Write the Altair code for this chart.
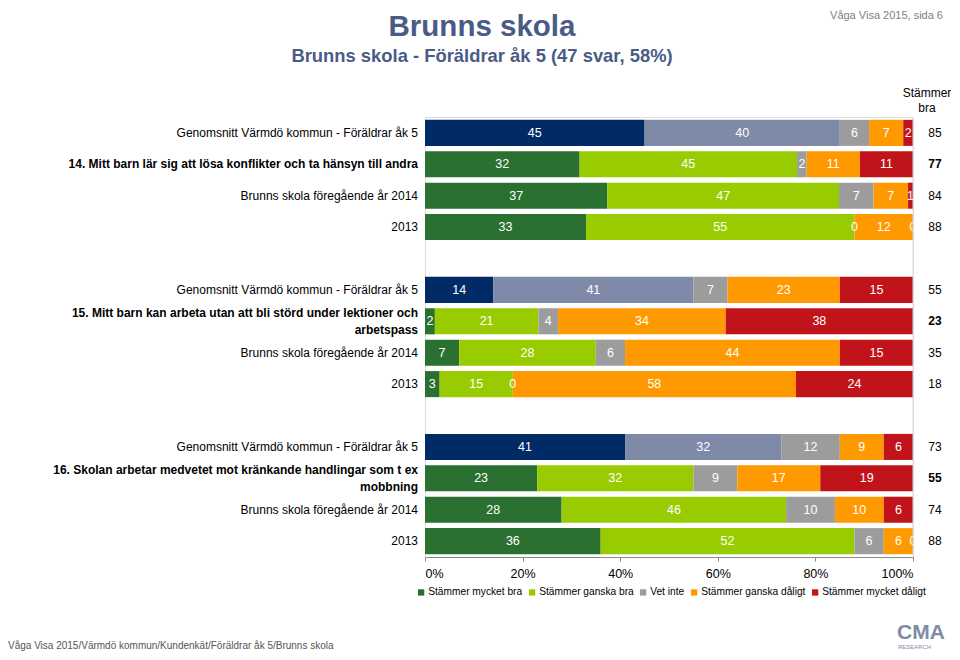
import altair as alt
import pandas as pd

# ---------------- data ----------------
categories = ["Stämmer mycket bra", "Stämmer ganska bra", "Vet inte",
              "Stämmer ganska dåligt", "Stämmer mycket dåligt"]

row_labels = [
    "Genomsnitt Värmdö kommun - Föräldrar åk 5",
    "14. Mitt barn lär sig att lösa konflikter och ta hänsyn till andra",
    "Brunns skola föregående år 2014",
    "2013",
    "Genomsnitt Värmdö kommun - Föräldrar åk 5",
    "15. Mitt barn kan arbeta utan att bli störd under lektioner och\narbetspass",
    "Brunns skola föregående år 2014",
    "2013",
    "Genomsnitt Värmdö kommun - Föräldrar åk 5",
    "16. Skolan arbetar medvetet mot kränkande handlingar som t ex\nmobbning",
    "Brunns skola föregående år 2014",
    "2013",
]
row_kind = ["avg", "q", "prev", "y13"] * 3
row_lines = [1, 1, 1, 1, 1, 2, 1, 1, 1, 2, 1, 1]
row_slot = [0, 1, 2, 3, 5, 6, 7, 8, 10, 11, 12, 13]

mycket_bra = [45, 32, 37, 33, 14, 2, 7, 3, 41, 23, 28, 36]
ganska_bra = [40, 45, 47, 55, 41, 21, 28, 15, 32, 32, 46, 52]
vet_inte = [6, 2, 7, 0, 7, 4, 6, 0, 12, 9, 10, 6]
ganska_daligt = [7, 11, 7, 12, 23, 34, 44, 58, 9, 17, 10, 6]
mycket_daligt = [2, 11, 1, 0, 15, 38, 15, 24, 6, 19, 6, 0]
stammer_bra = [85, 77, 84, 88, 55, 23, 35, 18, 73, 55, 74, 88]

avg_keys = ["Värmdö mycket bra", "Värmdö ganska bra"]
color_domain = categories + avg_keys
color_range = ["#2A7030", "#99CC00", "#9C9C9C", "#FF9900", "#C0141A",
               "#002B66", "#7F8AA8"]

# ---------------- table ----------------
series = [mycket_bra, ganska_bra, vet_inte, ganska_daligt, mycket_daligt]
recs = []
for i in range(len(row_labels)):
    vals = [s[i] for s in series]
    tot = sum(vals)
    cum = 0
    for j, c in enumerate(categories):
        v = vals[j]
        x0 = cum / tot * 100
        cum += v
        x1 = cum / tot * 100
        key = avg_keys[j] if (row_kind[i] == "avg" and j < 2) else c
        recs.append(dict(slot=row_slot[i], cat=c, key=key, v=v,
                         x0=x0, x1=x1, mid=(x0 + x1) / 2, order=j))
df = pd.DataFrame(recs)

df_rows = pd.DataFrame(dict(slot=row_slot, label=row_labels, kind=row_kind,
                            lines=row_lines, sb=stammer_bra))

FONT = "Liberation Sans"
FS = 12

yenc = alt.Y("slot:O", scale=alt.Scale(domain=list(range(14)),
                                       paddingInner=0.17, paddingOuter=0.09),
             axis=None)

bars = alt.Chart(df).mark_bar().encode(
    x=alt.X("x0:Q", scale=alt.Scale(domain=[0, 100], nice=False),
            axis=alt.Axis(values=[0, 20, 40, 60, 80, 100], title=None,
                          labelExpr="datum.value + '%'", grid=False,
                          labelFontSize=12.5, labelColor="#000000",
                          tickColor="#888888", domainColor="#888888",
                          tickSize=4, labelPadding=6, labelFont=FONT)),
    x2="x1:Q",
    y=yenc,
    color=alt.Color("key:N",
                    scale=alt.Scale(domain=color_domain, range=color_range),
                    legend=alt.Legend(values=categories, title=None,
                                      orient="none", legendX=-9, legendY=470,
                                      direction="horizontal", columns=5,
                                      symbolType="square", symbolSize=40,
                                      symbolStrokeWidth=0, labelFontSize=10.2,
                                      labelFont=FONT, labelColor="#000000",
                                      columnPadding=4, labelOffset=2)),
    order="order:Q",
)

seg_labels = alt.Chart(df).mark_text(color="white", fontSize=12.5, font=FONT,
                                     baseline="middle").encode(
    x="mid:Q", y=yenc, text="v:Q")

right_rule = alt.Chart(pd.DataFrame({"v": [100]})).mark_rule(
    color="#D9D9D9", strokeWidth=1).encode(
    x="v:Q", y=alt.value(0), y2=alt.value(438))

lbl_norm = alt.Chart(df_rows).transform_filter("datum.kind != 'q'").mark_text(
    align="right", baseline="middle", fontSize=FS, font=FONT, color="#000000"
).encode(x=alt.value(-7), y=yenc, text="label:N")

lbl_bold1 = alt.Chart(df_rows).transform_filter(
    "datum.kind == 'q' && datum.lines == 1").mark_text(
    align="right", baseline="middle", fontSize=FS, font=FONT, color="#000000",
    fontWeight="bold"
).encode(x=alt.value(-7), y=yenc, text="label:N")

lbl_bold2 = alt.Chart(df_rows).transform_filter(
    "datum.kind == 'q' && datum.lines == 2").mark_text(
    align="right", baseline="middle", fontSize=FS, font=FONT, color="#000000",
    fontWeight="bold", lineBreak="\n", lineHeight=17, dy=-8
).encode(x=alt.value(-7), y=yenc, text="label:N")

sb_norm = alt.Chart(df_rows).transform_filter("datum.kind != 'q'").mark_text(
    align="center", baseline="middle", fontSize=FS, font=FONT, color="#000000"
).encode(x=alt.value(510), y=yenc, text="sb:Q")

sb_bold = alt.Chart(df_rows).transform_filter("datum.kind == 'q'").mark_text(
    align="center", baseline="middle", fontSize=FS, font=FONT, color="#000000",
    fontWeight="bold"
).encode(x=alt.value(510), y=yenc, text="sb:Q")

sb_head = alt.Chart(pd.DataFrame({"t": ["Stämmer\nbra"]})).mark_text(
    align="center", baseline="middle", fontSize=FS, font=FONT,
    color="#000000", lineBreak="\n", lineHeight=15
).encode(x=alt.value(502), y=alt.value(-24), text="t:N")

title = alt.Chart(pd.DataFrame({"t": ["Brunns skola"]})).mark_text(
    align="center", baseline="middle", fontSize=29.5, font=FONT,
    fontWeight="bold", color="#4A5B86"
).encode(x=alt.value(57), y=alt.value(-90), text="t:N")

subtitle = alt.Chart(pd.DataFrame({"t": ["Brunns skola - Föräldrar åk 5 (47 svar, 58%)"]})).mark_text(
    align="center", baseline="middle", fontSize=18.4, font=FONT,
    fontWeight="bold", color="#4A5B86"
).encode(x=alt.value(57), y=alt.value(-61), text="t:N")

corner = alt.Chart(pd.DataFrame({"t": ["Våga Visa 2015, sida 6"]})).mark_text(
    align="right", baseline="middle", fontSize=11, font=FONT, color="#808080"
).encode(x=alt.value(518), y=alt.value(-101), text="t:N")

footer = alt.Chart(pd.DataFrame({"t": ["Våga Visa 2015/Värmdö kommun/Kundenkät/Föräldrar åk 5/Brunns skola"]})).mark_text(
    align="left", baseline="middle", fontSize=10, font=FONT, color="#555555"
).encode(x=alt.value(-417), y=alt.value(529), text="t:N")

logo = alt.Chart(pd.DataFrame({"t": ["CMA"]})).mark_text(
    align="left", baseline="middle", fontSize=21, font=FONT,
    fontWeight="bold", color="#7E8CA6"
).encode(x=alt.value(472), y=alt.value(516), text="t:N")

logo2 = alt.Chart(pd.DataFrame({"t": ["RESEARCH"]})).mark_text(
    align="left", baseline="middle", fontSize=6, font=FONT, color="#7E8CA6"
).encode(x=alt.value(473), y=alt.value(530), text="t:N")

chart = alt.layer(
    bars, seg_labels, right_rule, lbl_norm, lbl_bold1, lbl_bold2, sb_norm,
    sb_bold, sb_head, title, subtitle, corner, footer, logo, logo2
).properties(
    width=488, height=440,
    padding={"left": 417, "top": 109, "right": 38, "bottom": 95},
    autosize=alt.AutoSizeParams(type="none"),
).configure_view(stroke=None).configure(font=FONT)

chart.save("out.html", embed_options={"renderer": "svg", "actions": False})
